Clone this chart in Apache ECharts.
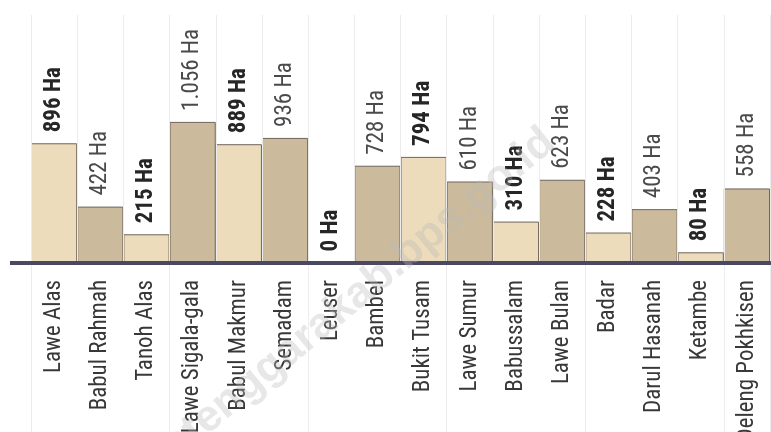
<!DOCTYPE html>
<html>
<head>
<meta charset="utf-8">
<script src="https://cdn.jsdelivr.net/npm/echarts@6/dist/echarts.min.js"></script>
<style>
html,body{margin:0;padding:0;background:#fff;}
#c{width:771px;height:432px;}
</style>
</head>
<body>
<div id="c"></div>
<script>
const categories = ["Lawe Alas","Babul Rahmah","Tanoh Alas","Lawe Sigala-gala","Babul Makmur","Semadam","Leuser","Bambel","Bukit Tusam","Lawe Sumur","Babussalam","Lawe Bulan","Badar","Darul Hasanah","Ketambe","Deleng Pokhkisen"];
const values = [896,422,215,1056,889,936,0,728,794,610,310,623,228,403,80,558];
const valueLabels = ["896 Ha","422 Ha","215 Ha","1.056 Ha","889 Ha","936 Ha","0 Ha","728 Ha","794 Ha","610 Ha","310 Ha","623 Ha","228 Ha","403 Ha","80 Ha","558 Ha"];
const watermark = "acehtenggarakab.bps.go.id";

const FONT = '"Liberation Sans Narrow","Roboto Condensed","Arial Narrow",Roboto,sans-serif';
const LIGHT = '#ecdcbb', DARK = '#cbbb9c';

const chart = echarts.init(document.getElementById('c'), null, {renderer:'canvas'});
const data = values.map((v,i)=>({
  value: v,
  itemStyle: {color: i%2===0 ? LIGHT : DARK},
  label: i%2===0 ? {fontWeight:'bold', color:'#262626'} : {fontWeight:'normal', color:'#4a4a4a'}
}));
chart.setOption({
  animation:false,
  backgroundColor:'#ffffff',
  grid:[
    {left:31,right:1,top:15,bottom:169,containLabel:false,outerBoundsMode:'none'},
    {left:31,right:1,top:263,bottom:0,containLabel:false,outerBoundsMode:'none'}
  ],
  xAxis:[{
    type:'category', data:categories, gridIndex:0,
    axisLine:{show:true,lineStyle:{color:'#4b4862',width:4}},
    axisTick:{show:false},
    axisLabel:{rotate:90,margin:17,color:'#383838',fontSize:23,fontFamily:FONT,interval:0},
    splitLine:{show:true,lineStyle:{color:'#ececec',width:1}},
    z:5
  },{
    type:'category', data:categories, gridIndex:1,
    axisLine:{show:false}, axisTick:{show:false}, axisLabel:{show:false},
    splitLine:{show:true,lineStyle:{color:'#ececec',width:1}}
  }],
  yAxis:[
    {type:'value',gridIndex:0,min:0,max:1856,show:false,splitLine:{show:false}},
    {type:'value',gridIndex:1,min:0,max:1,show:false,splitLine:{show:false}}
  ],
  series:[{
    type:'bar', data:data, barCategoryGap:'0%', xAxisIndex:0, yAxisIndex:0,
    itemStyle:{borderColor:'#6e655c',borderWidth:1},
    label:{show:true,position:'top',rotate:90,align:'left',verticalAlign:'middle',distance:11,
      fontSize:23,fontFamily:FONT,
      formatter:(p)=>valueLabels[p.dataIndex]}
  }]
});
const y0 = chart.convertToPixel({yAxisIndex:0},0);
chart.setOption({
  graphic:[
    {type:'line',shape:{x1:10,y1:y0,x2:33,y2:y0},style:{stroke:'#4b4862',lineWidth:4},z:10},
    {type:'text',x:330,y:318,rotation:0.69,
      style:{text:watermark,fill:'rgba(185,185,185,0.35)',font:'bold 44px sans-serif',align:'center',verticalAlign:'middle'},z:20}
  ]
});
</script>
</body>
</html>
